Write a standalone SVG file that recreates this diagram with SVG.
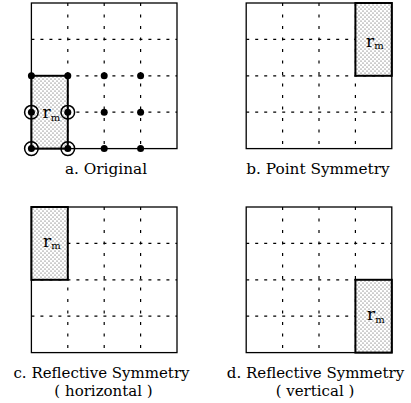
<svg xmlns="http://www.w3.org/2000/svg" xmlns:xlink="http://www.w3.org/1999/xlink" width="411" height="403" viewBox="0 0 411 403">
<style>
.h{stroke:#000;stroke-width:1.2;stroke-dasharray:3 6;fill:none}
.v{stroke:#000;stroke-width:1.2;stroke-dasharray:3 8.5;fill:none}
.box{fill:none;stroke:#000;stroke-width:1.3}
.region{fill:url(#dots);stroke:#000;stroke-width:2}
.lbl{font-family:"DejaVu Serif",serif;font-size:15.3px;fill:#000;text-anchor:middle}
.lbl2{font-size:15px}
.rm{font-family:"DejaVu Serif",serif;font-size:17px;fill:#000}
.sub{font-size:10px}
.dot{fill:#000}
.ring{fill:none;stroke:#000;stroke-width:1.5}
</style>
<defs>
<pattern id="dots" width="4" height="4" patternUnits="userSpaceOnUse">
<rect width="4" height="4" fill="#fff"/>
<circle cx="1" cy="1" r="0.55" fill="#333"/>
<circle cx="3" cy="3" r="0.55" fill="#333"/>
</pattern>
<g id="grid">
<path class="h" d="M0 36.4H145.6M0 72.8H145.6M0 109.2H145.6"/>
<path class="v" d="M36.4 0V145.6M72.8 0V145.6M109.2 0V145.6"/>
<rect class="box" x="0" y="0" width="145.6" height="145.6"/>
</g>
</defs>

<g id="panel-a">
<use xlink:href="#grid" x="31.4" y="3"/>
<rect class="region" x="31.4" y="75.8" width="36.4" height="72.8"/>
<text class="rm" x="42.5" y="118"><tspan>r</tspan><tspan class="sub" dy="2.5">m</tspan></text>
<g id="points">
<circle class="dot" cx="31.4" cy="75.8" r="3.5"/>
<circle class="dot" cx="67.8" cy="75.8" r="3.5"/>
<circle class="dot" cx="104.2" cy="75.8" r="3.5"/>
<circle class="dot" cx="140.6" cy="75.8" r="3.5"/>
<circle class="dot" cx="31.4" cy="112.2" r="3.5"/>
<circle class="dot" cx="67.8" cy="112.2" r="3.5"/>
<circle class="dot" cx="104.2" cy="112.2" r="3.5"/>
<circle class="dot" cx="140.6" cy="112.2" r="3.5"/>
<circle class="dot" cx="31.4" cy="148.6" r="3.5"/>
<circle class="dot" cx="67.8" cy="148.6" r="3.5"/>
<circle class="dot" cx="104.2" cy="148.6" r="3.5"/>
<circle class="dot" cx="140.6" cy="148.6" r="3.5"/>
<circle class="ring" cx="31.4" cy="112.2" r="6.8"/>
<circle class="ring" cx="67.8" cy="112.2" r="6.8"/>
<circle class="ring" cx="31.4" cy="148.6" r="6.8"/>
<circle class="ring" cx="67.8" cy="148.6" r="6.8"/>
</g>
<text class="lbl" x="106" y="174">a. Original</text>
</g>

<g id="panel-b">
<use xlink:href="#grid" x="246.2" y="3"/>
<rect class="region" x="355.4" y="3" width="36.4" height="72.8"/>
<text class="rm" x="366" y="46.5"><tspan>r</tspan><tspan class="sub" dy="2.5">m</tspan></text>
<text class="lbl" x="318" y="174">b. Point Symmetry</text>
</g>

<g id="panel-c">
<use xlink:href="#grid" x="31.4" y="207"/>
<rect class="region" x="31.4" y="207" width="36.4" height="72.8"/>
<text class="rm" x="43" y="246.5"><tspan>r</tspan><tspan class="sub" dy="2.5">m</tspan></text>
<text class="lbl lbl2" x="101.5" y="377.5">c. Reflective Symmetry</text>
<text class="lbl lbl2" x="103.5" y="395.5">( horizontal )</text>
</g>

<g id="panel-d">
<use xlink:href="#grid" x="246.2" y="207"/>
<rect class="region" x="355.4" y="279.8" width="36.4" height="72.8"/>
<text class="rm" x="367" y="320"><tspan>r</tspan><tspan class="sub" dy="2.5">m</tspan></text>
<text class="lbl lbl2" x="315.5" y="377.5">d. Reflective Symmetry</text>
<text class="lbl lbl2" x="315" y="395.5">( vertical )</text>
</g>

<g id="connectors"></g>
</svg>
